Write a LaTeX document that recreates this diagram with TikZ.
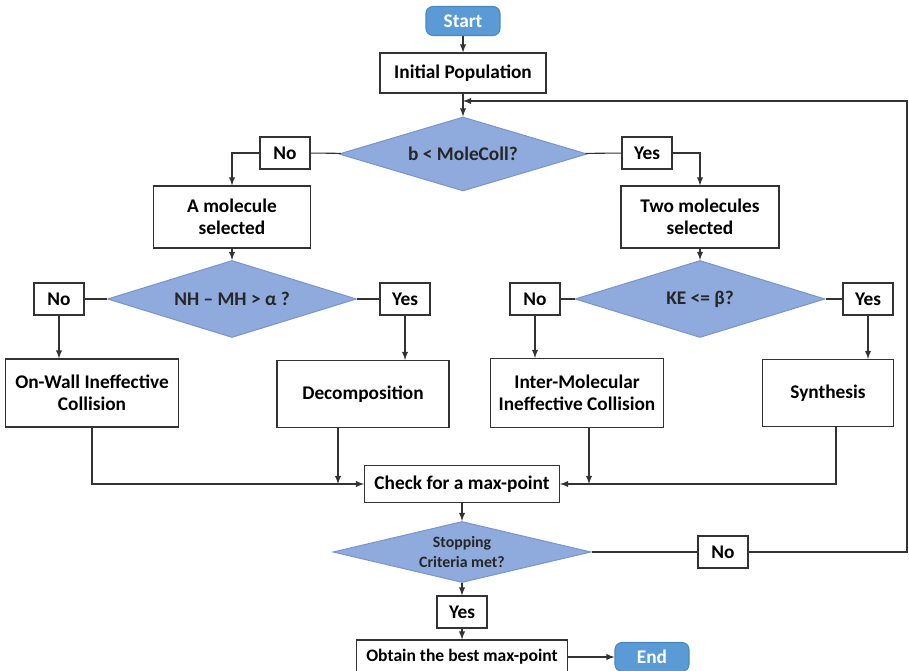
\documentclass[tikz,border=0pt]{standalone}
\usepackage{fontspec}
\setmainfont{Carlito}
\usepackage{xcolor}
\usetikzlibrary{shapes.geometric, arrows}
\definecolor{decfill}{HTML}{8FAADC}
\definecolor{decdraw}{HTML}{7A96CF}
\definecolor{termfill}{HTML}{5B9BD5}
\definecolor{termdraw}{HTML}{4A86C2}
\definecolor{linegray}{HTML}{333333}

\begin{document}
\begin{tikzpicture}[
    x=0.02cm, y=-0.02cm,
    term/.style={rectangle, draw=termdraw, fill=termfill, text=white, line width=0.6pt, rounded corners=4pt, minimum width=1.48cm, minimum height=0.58cm, font=\bfseries\fontsize{11}{13}\selectfont},
    proc/.style={rectangle, draw=linegray, fill=white, line width=0.6pt, text centered, align=center, font=\bfseries\fontsize{11}{12.5}\selectfont},
    dec/.style={diamond, draw=decdraw, fill=decfill, line width=0.6pt, aspect=3.3, inner sep=0pt, align=center, text=black!85, font=\bfseries\fontsize{11}{12.5}\selectfont},
    lbl/.style={rectangle, draw=linegray, fill=white, line width=0.6pt, minimum width=1.0cm, minimum height=0.64cm, font=\bfseries\fontsize{11}{13}\selectfont},
    arrow/.style={-latex, line width=0.6pt, color=linegray},
    line/.style={line width=0.6pt, color=linegray}
]

\clip (0,0) rectangle (909,671);

% Start and initialisation
\node[term] (start) at (463,21) {Start};
\node[proc, minimum width=3.32cm, minimum height=0.8cm] (init) at (463,73) {Initial Population};

% First decision
\node[dec, minimum width=4.96cm, minimum height=1.48cm] (collchk) at (463,154) {b < MoleColl?};
\node[lbl] (no1) at (285,153) {No};
\node[lbl] (yes1) at (647,153) {Yes};
\node[proc, minimum width=3.14cm, minimum height=1.24cm] (onemol) at (232,217) {A molecule\\ selected};
\node[proc, minimum width=3.16cm, minimum height=1.24cm] (twomol) at (700,217) {Two molecules\\ selected};

% Second level decisions
\node[dec, minimum width=4.98cm, minimum height=1.54cm] (decompchk) at (232,299) {NH – MH > α ?};
\node[lbl] (no2) at (59,299) {No};
\node[lbl] (yes2) at (405,299) {Yes};
\node[dec, minimum width=5.0cm, minimum height=1.54cm] (synthchk) at (700,299) {KE <= β?};
\node[lbl] (no3) at (535,299) {No};
\node[lbl] (yes3) at (868,299) {Yes};

% Reactions
\node[proc, minimum width=3.46cm, minimum height=1.36cm] (onwall) at (92,393) {On-Wall Ineffective\\ Collision};
\node[proc, minimum width=3.44cm, minimum height=1.34cm] (decomp) at (363,394) {Decomposition};
\node[proc, minimum width=3.46cm, minimum height=1.38cm] (inter) at (577,393) {Inter-Molecular\\ Ineffective Collision};
\node[proc, minimum width=2.62cm, minimum height=1.34cm] (synth) at (828,393) {Synthesis};

% Check and stop
\node[proc, minimum width=3.9cm, minimum height=0.74cm] (check) at (462,484) {Check for a max-point};
\node[dec, minimum width=5.16cm, minimum height=1.22cm, aspect=4, font=\bfseries\fontsize{9}{11}\selectfont] (stopchk) at (462,552) {Stopping\\ Criteria met?};
\node[lbl] (no4) at (723,552) {No};
\node[lbl] (yes4) at (462,612) {Yes};
\node[proc, minimum width=4.22cm, minimum height=0.68cm, font=\bfseries\fontsize{10}{12}\selectfont] (best) at (462,657) {Obtain the best max-point};
\node[term] (end) at (652,657) {End};

% Join points
\coordinate (decompjoin) at (338,484);
\coordinate (interjoin) at (589,484);
\coordinate (synthjoin) at (836,484);
\coordinate (loopcorner) at (907,552);
\coordinate (looptop) at (907,101);
\coordinate (loopin) at (463,101);

% Arrows
\draw[arrow] (start) -- (init);
\draw[arrow] (init) -- (collchk);
\draw[line] (collchk) -- (no1);
\draw[line] (collchk) -- (yes1);
\draw[arrow] (no1.west) -| (onemol.north);
\draw[arrow] (yes1.east) -| (twomol.north);
\draw[arrow] (onemol) -- (decompchk);
\draw[arrow] (twomol) -- (synthchk);

\draw[line] (decompchk) -- (no2);
\draw[line] (decompchk) -- (yes2);
\draw[line] (synthchk) -- (no3);
\draw[line] (synthchk) -- (yes3);
\draw[arrow] (no2) -- (onwall.north -| no2);
\draw[arrow] (yes2) -- (decomp.north -| yes2);
\draw[arrow] (no3) -- (inter.north -| no3);
\draw[arrow] (yes3) -- (synth.north -| yes3);

\draw[arrow] (onwall.south) |- (check.west);
\draw[arrow] (decomp.south -| decompjoin) -- (decompjoin);
\draw[arrow] (inter.south -| interjoin) -- (interjoin);
\draw[arrow] (synth.south -| synthjoin) |- (check.east);

\draw[arrow] (check) -- (stopchk);
\draw[line] (stopchk) -- (no4);
\draw[arrow] (no4.east) -- (loopcorner) -- (looptop) -- (loopin);
\draw[arrow] (stopchk) -- (yes4);
\draw[arrow] (yes4) -- (best);
\draw[arrow] (best) -- (end);

\end{tikzpicture}
\end{document}
